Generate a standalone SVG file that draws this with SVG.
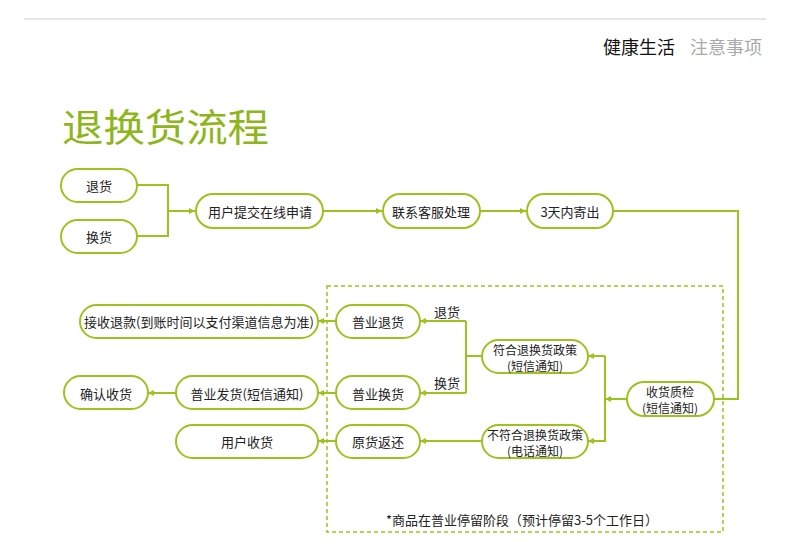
<svg xmlns="http://www.w3.org/2000/svg" width="790" height="548" viewBox="0 0 790 548">
<defs>
<marker id="ah" markerWidth="8" markerHeight="8" refX="7" refY="4" orient="auto" markerUnits="userSpaceOnUse">
<path d="M1,1 L7,4 L1,7 Z" fill="#9cc21e"/>
</marker>
<style>
.n{fill:#fff;stroke:#9cc21e;stroke-width:2}
.t{font-family:"Microsoft YaHei","Noto Sans CJK SC",sans-serif;font-size:13px;fill:#222;text-anchor:middle;dominant-baseline:central}
.s{font-size:12px}
.c{fill:none;stroke:#9cc21e;stroke-width:2}
.a{marker-end:url(#ah)}
</style>
</defs>
<rect width="790" height="548" fill="#fff"/>
<line x1="24" y1="19" x2="766" y2="19" stroke="#e6e6e6" stroke-width="2"/>
<text x="639" y="46" font-family="Noto Sans CJK SC,sans-serif" font-size="18" fill="#111" text-anchor="middle" dominant-baseline="central">健康生活</text>
<text x="726" y="46" font-family="Noto Sans CJK SC,sans-serif" font-size="18" fill="#aaa" text-anchor="middle" dominant-baseline="central">注意事项</text>
<text x="62" y="124" font-family="Noto Sans CJK SC,sans-serif" font-size="38" fill="#8cb61a" dominant-baseline="central" textLength="207" lengthAdjust="spacingAndGlyphs">退换货流程</text>

<rect x="327" y="286" width="396" height="246" fill="none" stroke="#9cc21e" stroke-width="1.5" stroke-dasharray="4,3"/>

<g id="connectors">
<polyline class="c" points="137,185 168,185 168,236 137,236"/>
<line class="c a" x1="168" y1="211" x2="195" y2="211"/>
<line class="c a" x1="323" y1="211" x2="382" y2="211"/>
<line class="c a" x1="480" y1="211" x2="526" y2="211"/>
<polyline class="c" points="613,211 738,211 738,399 714,399"/>
<line class="c a" x1="627" y1="399" x2="605" y2="399"/>
<line class="c" x1="605" y1="356" x2="605" y2="442"/>
<line class="c a" x1="605" y1="356" x2="588" y2="356"/>
<line class="c a" x1="605" y1="441" x2="588" y2="441"/>
<polyline class="c" points="482,356 466,356"/>
<line class="c" x1="466" y1="321" x2="466" y2="393"/>
<line class="c a" x1="466" y1="321" x2="420" y2="321"/>
<line class="c a" x1="466" y1="393" x2="420" y2="393"/>
<line class="c a" x1="482" y1="441" x2="420" y2="441"/>
<line class="c a" x1="336" y1="321" x2="318" y2="321"/>
<line class="c a" x1="336" y1="393" x2="318" y2="393"/>
<line class="c a" x1="336" y1="441" x2="318" y2="441"/>
<line class="c a" x1="176" y1="393" x2="148" y2="393"/>
<text class="t" x="447" y="311">退货</text>
<text class="t" x="447" y="382">换货</text>
</g>

<g id="n-tuihuo"><rect class="n" x="61" y="169" width="76" height="33" rx="16.5"/><text class="t" x="99" y="185">退货</text></g>
<g id="n-huanhuo"><rect class="n" x="61" y="220" width="76" height="33" rx="16.5"/><text class="t" x="99" y="236">换货</text></g>
<g id="n-apply"><rect class="n" x="196" y="194" width="127" height="34" rx="17"/><text class="t" x="260" y="211">用户提交在线申请</text></g>
<g id="n-service"><rect class="n" x="383" y="194" width="97" height="34" rx="17"/><text class="t" x="431" y="211">联系客服处理</text></g>
<g id="n-ship"><rect class="n" x="527" y="194" width="86" height="34" rx="17"/><text class="t" x="570" y="211">3天内寄出</text></g>
<g id="n-check"><rect class="n" x="627" y="382" width="87" height="34" rx="17"/><text class="t s" x="670" y="391">收货质检</text><text class="t s" x="670" y="407">(短信通知)</text></g>
<g id="n-ok"><rect class="n" x="482" y="340" width="106" height="33" rx="16.5"/><text class="t s" x="535" y="349">符合退换货政策</text><text class="t s" x="535" y="365">(短信通知)</text></g>
<g id="n-notok"><rect class="n" x="482" y="425" width="106" height="33" rx="16.5"/><text class="t s" x="535" y="434">不符合退换货政策</text><text class="t s" x="535" y="450">(电话通知)</text></g>
<g id="n-ret"><rect class="n" x="336" y="305" width="84" height="33" rx="16.5"/><text class="t" x="378" y="321">普业退货</text></g>
<g id="n-exc"><rect class="n" x="336" y="376" width="84" height="33" rx="16.5"/><text class="t" x="378" y="393">普业换货</text></g>
<g id="n-back"><rect class="n" x="336" y="425" width="84" height="33" rx="16.5"/><text class="t" x="378" y="441">原货返还</text></g>
<g id="n-refund"><rect class="n" x="80" y="305" width="238" height="33" rx="16.5"/><text class="t" x="199" y="321">接收退款(到账时间以支付渠道信息为准)</text></g>
<g id="n-send"><rect class="n" x="176" y="376" width="142" height="33" rx="16.5"/><text class="t" x="247" y="393">普业发货(短信通知)</text></g>
<g id="n-confirm"><rect class="n" x="64" y="376" width="84" height="33" rx="16.5"/><text class="t" x="106" y="393">确认收货</text></g>
<g id="n-user"><rect class="n" x="176" y="425" width="142" height="33" rx="16.5"/><text class="t" x="247" y="441">用户收货</text></g>

<text class="t" x="522" y="519">*商品在普业停留阶段（预计停留3-5个工作日）</text>
</svg>
